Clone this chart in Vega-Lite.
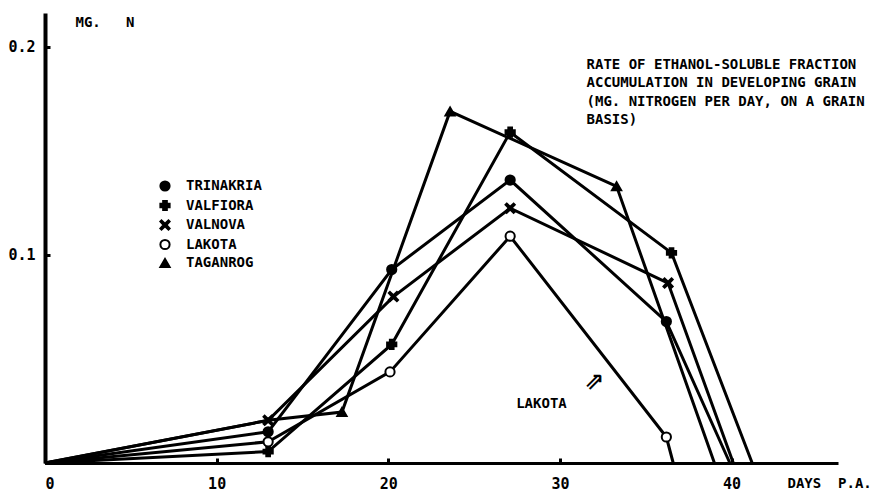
{
  "$schema": "https://vega.github.io/schema/vega-lite/v6.json",
  "width": 793,
  "height": 450,
  "autosize": "none",
  "padding": {"left": 45, "top": 13, "right": 37, "bottom": 31},
  "background": "white",
  "config": {
    "view": {"stroke": null},
    "font": "DejaVu Sans Mono",
    "axis": {"grid": false}
  },
  "datasets": {
    "series": [
      {"variety": "TRINAKRIA", "day": 0, "mg": 0},
      {"variety": "TRINAKRIA", "day": 13, "mg": 0.015},
      {"variety": "TRINAKRIA", "day": 20.2, "mg": 0.093},
      {"variety": "TRINAKRIA", "day": 27.1, "mg": 0.136},
      {"variety": "TRINAKRIA", "day": 36.2, "mg": 0.068},
      {"variety": "TRINAKRIA", "day": 39.9, "mg": 0},
      {"variety": "VALFIORA", "day": 0, "mg": 0},
      {"variety": "VALFIORA", "day": 13, "mg": 0.0055},
      {"variety": "VALFIORA", "day": 20.2, "mg": 0.057},
      {"variety": "VALFIORA", "day": 27.1, "mg": 0.159},
      {"variety": "VALFIORA", "day": 36.5, "mg": 0.101},
      {"variety": "VALFIORA", "day": 41.2, "mg": 0},
      {"variety": "VALNOVA", "day": 0, "mg": 0},
      {"variety": "VALNOVA", "day": 13, "mg": 0.0205},
      {"variety": "VALNOVA", "day": 20.3, "mg": 0.080},
      {"variety": "VALNOVA", "day": 27.1, "mg": 0.1225},
      {"variety": "VALNOVA", "day": 36.3, "mg": 0.0865},
      {"variety": "VALNOVA", "day": 40.1, "mg": 0},
      {"variety": "LAKOTA", "day": 0, "mg": 0},
      {"variety": "LAKOTA", "day": 13, "mg": 0.0102},
      {"variety": "LAKOTA", "day": 20.1, "mg": 0.0438},
      {"variety": "LAKOTA", "day": 27.1, "mg": 0.109},
      {"variety": "LAKOTA", "day": 36.2, "mg": 0.0125},
      {"variety": "LAKOTA", "day": 36.6, "mg": 0},
      {"variety": "TAGANROG", "day": 0, "mg": 0},
      {"variety": "TAGANROG", "day": 13, "mg": 0.0205},
      {"variety": "TAGANROG", "day": 17.3, "mg": 0.0245},
      {"variety": "TAGANROG", "day": 23.6, "mg": 0.169},
      {"variety": "TAGANROG", "day": 33.3, "mg": 0.133},
      {"variety": "TAGANROG", "day": 39.0, "mg": 0}
    ],
    "notes": [
      {"text": "RATE OF ETHANOL-SOLUBLE FRACTION", "day": 31.55, "mg": 0.1913},
      {"text": "ACCUMULATION IN DEVELOPING GRAIN", "day": 31.55, "mg": 0.1827},
      {"text": "(MG. NITROGEN PER DAY, ON A GRAIN", "day": 31.55, "mg": 0.1736},
      {"text": "BASIS)", "day": 31.55, "mg": 0.1649},
      {"text": "LAKOTA", "day": 27.45, "mg": 0.0285}
    ]
  },
  "layer": [
    {
      "data": {"name": "series"},
      "mark": {"type": "line", "color": "black", "strokeWidth": 3},
      "encoding": {
        "x": {
          "field": "day", "type": "quantitative",
          "scale": {"domain": [0, 46.2], "nice": false, "zero": false},
          "axis": {
            "values": [0, 10, 20, 30, 40],
            "format": "d",
            "domainColor": "black", "domainWidth": 3,
            "tickColor": "black", "tickWidth": 3, "tickSize": -5,
            "labelFont": "DejaVu Sans Mono", "labelFontWeight": "bold", "labelFontSize": 15,
            "labelColor": "black", "labelPadding": 18,
            "title": "DAYS\u00a0\u00a0P.A.",
            "titleFont": "DejaVu Sans Mono", "titleFontWeight": "bold", "titleFontSize": 14,
            "titleColor": "black",
            "titleX": 742, "titleY": 20, "titleAlign": "left", "titleBaseline": "middle", "titleAnchor": null
          }
        },
        "y": {
          "field": "mg", "type": "quantitative",
          "scale": {"domain": [0, 0.2163], "nice": false, "zero": true},
          "axis": {
            "values": [0.1, 0.2],
            "format": ".1f",
            "domainColor": "black", "domainWidth": 4,
            "tickColor": "black", "tickWidth": 3, "tickSize": -5,
            "labelFont": "DejaVu Sans Mono", "labelFontWeight": "bold", "labelFontSize": 15,
            "labelColor": "black", "labelPadding": 15,
            "title": "MG.\u00a0\u00a0\u00a0N",
            "titleFont": "DejaVu Sans Mono", "titleFontWeight": "bold", "titleFontSize": 14,
            "titleColor": "black", "titleAngle": 0,
            "titleX": 30, "titleY": 9, "titleAlign": "left", "titleBaseline": "middle", "titleAnchor": null
          }
        },
        "detail": {"field": "variety"}
      }
    },
    {
      "data": {"name": "series"},
      "transform": [
        {"filter": "datum.mg > 0 && !(datum.variety == 'TAGANROG' && datum.day == 13)"}
      ],
      "mark": {"type": "point", "filled": true, "stroke": "black", "strokeWidth": 2, "size": 85, "opacity": 1},
      "encoding": {
        "x": {"field": "day", "type": "quantitative"},
        "y": {"field": "mg", "type": "quantitative"},
        "shape": {
          "field": "variety", "type": "nominal",
          "scale": {
            "domain": ["TRINAKRIA", "VALFIORA", "VALNOVA", "LAKOTA", "TAGANROG"],
            "range": ["circle", "cross", "M-0.75,-1L0,-0.3L0.75,-1L1,-0.75L0.3,0L1,0.75L0.75,1L0,0.3L-0.75,1L-1,0.75L-0.3,0L-1,-0.75Z", "circle", "triangle-up"]
          },
          "legend": {
            "title": null, "orient": "none", "legendX": 113, "legendY": 166,
            "labelFont": "DejaVu Sans Mono", "labelFontWeight": "bold", "labelFontSize": 14, "labelColor": "black",
            "symbolSize": 85, "symbolStrokeColor": "black", "symbolStrokeWidth": 2, "symbolOpacity": 1,
            "labelOffset": 14, "rowPadding": 1.5,
            "encode": {"symbols": {"update": {"stroke": {"value": "black"}, "strokeWidth": {"value": 2}}}}
          }
        },
        "fill": {
          "field": "variety", "type": "nominal",
          "scale": {
            "domain": ["TRINAKRIA", "VALFIORA", "VALNOVA", "LAKOTA", "TAGANROG"],
            "range": ["black", "black", "black", "white", "black"]
          },
          "legend": {
            "title": null, "orient": "none", "legendX": 113, "legendY": 166,
            "labelFont": "DejaVu Sans Mono", "labelFontWeight": "bold", "labelFontSize": 14, "labelColor": "black",
            "symbolSize": 85, "symbolStrokeColor": "black", "symbolStrokeWidth": 2, "symbolOpacity": 1,
            "labelOffset": 14, "rowPadding": 1.5,
            "encode": {"symbols": {"update": {"stroke": {"value": "black"}, "strokeWidth": {"value": 2}}}}
          }
        }
      }
    },
    {
      "data": {"name": "notes"},
      "mark": {"type": "text", "align": "left", "baseline": "middle", "font": "DejaVu Sans Mono", "fontWeight": "bold", "fontSize": 14, "color": "black"},
      "encoding": {
        "x": {"field": "day", "type": "quantitative"},
        "y": {"field": "mg", "type": "quantitative"},
        "text": {"field": "text"}
      }
    },
    {
      "data": {"values": [{"text": "\u21d7", "day": 32.0, "mg": 0.039}]},
      "mark": {"type": "text", "align": "center", "baseline": "middle", "font": "DejaVu Sans", "fontWeight": "bold", "fontSize": 24, "color": "black"},
      "encoding": {
        "x": {"field": "day", "type": "quantitative"},
        "y": {"field": "mg", "type": "quantitative"},
        "text": {"field": "text"}
      }
    }
  ]
}
